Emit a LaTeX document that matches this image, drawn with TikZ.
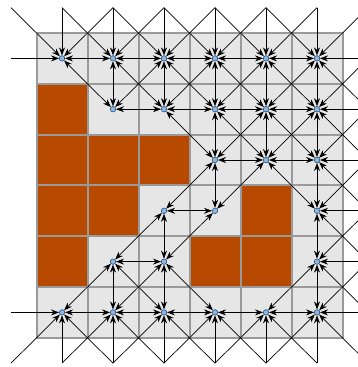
\documentclass[tikz,border=0pt]{standalone}
\usetikzlibrary{arrows.meta}
\definecolor{cellgray}{HTML}{E6E6E6}
\definecolor{cellline}{HTML}{9A9A9A}
\definecolor{wallbrown}{HTML}{B84A00}
\definecolor{vtxblue}{HTML}{86B8E8}
\definecolor{vtxline}{HTML}{1E3A5F}
\pgfdeclarelayer{gridlayer}
\pgfdeclarelayer{framelayer}
\pgfdeclarelayer{edgelayer}
\pgfsetlayers{gridlayer,framelayer,edgelayer,main}
\newif\iffreecell
% blocked cells, indices shifted by +1 (real cells are 1..6)
\def\markblk#1#2{\expandafter\def\csname blk#1x#2\endcsname{}}
\markblk{1}{2}\markblk{1}{3}\markblk{2}{3}\markblk{3}{3}
\markblk{1}{4}\markblk{2}{4}\markblk{5}{4}
\markblk{1}{5}\markblk{4}{5}\markblk{5}{5}
\newcommand\testfree[2]{%
  \pgfmathtruncatemacro\tci{max(1,min(6,#1))}%
  \pgfmathtruncatemacro\tcj{max(1,min(6,#2))}%
  \ifcsname blk\tci x\tcj\endcsname\freecellfalse\else\freecelltrue\fi}
\tikzset{
  cellbox/.style={fill=cellgray},
  wallbox/.style={fill=wallbrown},
  cellframe/.style={draw=cellline,line width=2pt},
  vtx/.style={circle,inner sep=0pt,minimum size=5.5pt,fill=vtxblue,draw=vtxline,line width=0.5pt},
  edge/.style={draw=black,line width=0.7pt},
  >={Stealth[length=8pt,width=6pt]}
}
\begin{document}
\begin{tikzpicture}[x=1pt,y=-1pt]
\useasboundingbox (0,0) rectangle (358,367);
\clip (0,0) rectangle (358,367);
% grid fills
\begin{pgfonlayer}{gridlayer}
\foreach \i in {1,...,6}{
  \foreach \j in {1,...,6}{
    \testfree{\i}{\j}
    \iffreecell
      \path[cellbox] ({36.5+51*(\i-1)},{33+50.8*(\j-1)}) rectangle ++(51,50.8);
    \else
      \path[wallbox] ({36.5+51*(\i-1)},{33+50.8*(\j-1)}) rectangle ++(51,50.8);
    \fi
  }
}
\end{pgfonlayer}
% grid lines
\begin{pgfonlayer}{framelayer}
\foreach \i in {1,...,6}{
  \foreach \j in {1,...,6}{
    \path[cellframe] ({36.5+51*(\i-1)},{33+50.8*(\j-1)}) rectangle ++(51,50.8);
  }
}
\end{pgfonlayer}
% vertices
\foreach \i in {1,...,6}{
  \foreach \j in {1,...,6}{
    \testfree{\i}{\j}
    \iffreecell
      \node[vtx] (n\i-\j) at ({36.5+51*(\i-0.5)},{33+50.8*(\j-0.5)}) {};
    \fi
  }
}
% virtual outside ends
\foreach \i in {0,...,7}{
  \foreach \j in {0,...,7}{
    \pgfmathtruncatemacro\onborder{(\i==0)||(\i==7)||(\j==0)||(\j==7)}
    \ifnum\onborder=1
      \coordinate (n\i-\j) at ({36.5+51*(\i-0.5)},{33+50.8*(\j-0.5)});
    \fi
  }
}
% edges
\begin{pgfonlayer}{edgelayer}
\foreach \i in {1,...,6}{
  \foreach \j in {1,...,6}{
    \testfree{\i}{\j}
    \iffreecell
      \foreach \di/\dj in {1/0,1/1,0/1,-1/1,-1/0,-1/-1,0/-1,1/-1}{
        \pgfmathtruncatemacro\ni{\i+\di}
        \pgfmathtruncatemacro\nj{\j+\dj}
        \pgfmathtruncatemacro\isreal{(\ni>0)&&(\ni<7)&&(\nj>0)&&(\nj<7)}
        \pgfmathtruncatemacro\fwd{(\di>0)||((\di==0)&&(\dj>0))}
        \testfree{\ni}{\nj}
        \iffreecell
          \ifnum\isreal=1
            \ifnum\fwd=1
              \draw[edge,<->] (n\i-\j) -- (n\ni-\nj);
            \fi
          \else
            \draw[edge,->] (n\ni-\nj) -- (n\i-\j);
          \fi
        \fi
      }
    \fi
  }
}
\end{pgfonlayer}
\end{tikzpicture}
\end{document}
